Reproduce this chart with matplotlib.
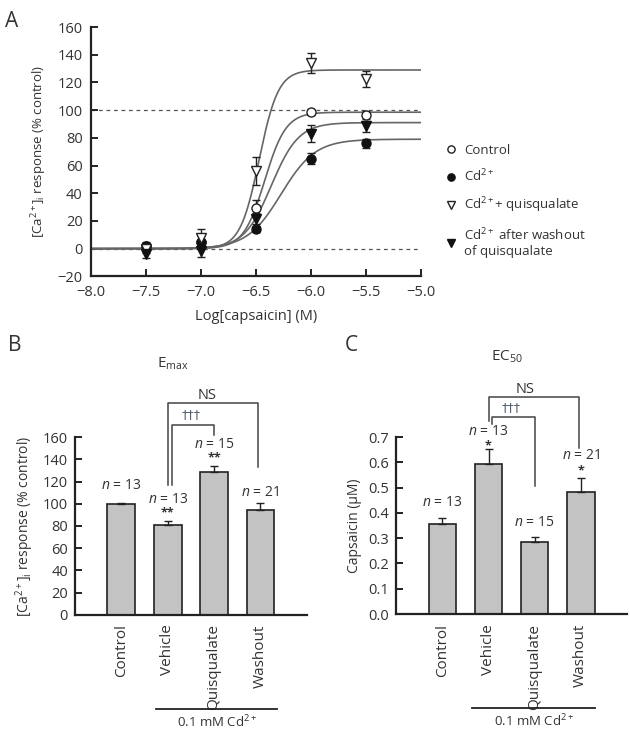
import numpy as np
import matplotlib
matplotlib.use('Agg')
import matplotlib.pyplot as plt
from matplotlib.lines import Line2D

plt.rcParams['font.family'] = ['Open Sans', 'DejaVu Sans']
plt.rcParams['mathtext.fontset'] = 'custom'
plt.rcParams['mathtext.rm'] = 'Open Sans'
plt.rcParams['mathtext.it'] = 'Open Sans:italic'
plt.rcParams['text.color'] = '#333333'
plt.rcParams['axes.labelcolor'] = '#333333'
plt.rcParams['xtick.color'] = '#222222'
plt.rcParams['ytick.color'] = '#222222'
plt.rcParams['xtick.labelcolor'] = '#333333'
plt.rcParams['ytick.labelcolor'] = '#333333'

# ---- Panel A: concentration-response data ----
series_names = ['Control', 'Cd$^{2+}$', 'Cd$^{2+}$+ quisqualate',
                'Cd$^{2+}$ after washout\nof quisqualate']
log_conc = [-7.5, -7.0, -6.5, -6.0, -5.5]
resp_control = [2, 5, 29, 98.5, 96.5]
err_control = [3, 5, 6, 2, 3]
resp_cd = [2, 5, 14, 65, 76]
err_cd = [2, 4, 2, 4, 3]
resp_quis = [0, 8, 56, 134, 122.5]
err_quis = [3, 6, 10, 7, 5.5]
resp_wash = [-4, -2, 21.5, 83, 88.5]
err_wash = [3, 4, 4, 6, 4]

# fitted Hill parameters: top, logEC50, hill slope
fit_top = [98.5, 79, 129, 91]
fit_logec50 = [-6.42, -6.27, -6.47, -6.36]
fit_hill = [4.5, 2.8, 5.0, 3.5]

# ---- Panel B / C: summary bars ----
groups = ['Control', 'Vehicle', 'Quisqualate', 'Washout']
n_labels = ['$n$ = 13', '$n$ = 13', '$n$ = 15', '$n$ = 21']
emax = [99.5, 81, 129, 94]
emax_err = [1.2, 3.8, 5, 7]
emax_stars = ['', '**', '**', '']
ec50 = [0.355, 0.595, 0.284, 0.484]
ec50_err = [0.027, 0.058, 0.021, 0.055]
ec50_stars = ['', '*', '', '*']

fig = plt.figure(figsize=(6.3, 7.31), dpi=100)

# ================= Panel A =================
axA = fig.add_axes([0.1444, 0.622, 0.5236, 0.341])
markers = [dict(marker='o', mfc='white', mec='#222222'),
           dict(marker='o', mfc='#111111', mec='#111111'),
           dict(marker='v', mfc='white', mec='#222222'),
           dict(marker='v', mfc='#111111', mec='#111111')]
resps = [resp_control, resp_cd, resp_quis, resp_wash]
errs = [err_control, err_cd, err_quis, err_wash]

xfit = np.linspace(-8.0, -5.0, 400)
axA.axhline(100, color='#555555', ls=(0, (3, 3)), lw=0.9, zorder=1)
axA.axhline(0, color='#555555', ls=(0, (3, 3)), lw=0.9, zorder=1)
for top, ec, h in zip(fit_top, fit_logec50, fit_hill):
    yfit = top / (1 + 10 ** (h * (ec - xfit)))
    axA.plot(xfit, yfit, color='#666666', lw=1.2, zorder=2)

for name, y, e, m in zip(series_names, resps, errs, markers):
    axA.errorbar(log_conc, y, yerr=e, fmt='none', ecolor='#222222',
                 elinewidth=1.0, capsize=3, capthick=1.0, zorder=3)
    axA.plot(log_conc, y, ls='none', ms=6.5, mew=1.0, label=name,
             zorder=4, **m)

axA.set_xlim(-8.0, -5.0)
axA.set_ylim(-20, 160)
axA.set_xticks(np.arange(-8.0, -4.99, 0.5))
axA.set_xticklabels(['\u2212%.1f' % abs(v) for v in np.arange(-8.0, -4.99, 0.5)])
axA.set_yticks(np.arange(-20, 161, 20))
axA.set_yticklabels([('\u2212%d' % abs(v)) if v < 0 else str(v)
                     for v in np.arange(-20, 161, 20)])
axA.spines[['top', 'right']].set_visible(False)
for s in ['left', 'bottom']:
    axA.spines[s].set_linewidth(1.6)
    axA.spines[s].set_color('#222222')
axA.tick_params(direction='in', length=5, width=1.4, labelsize=10.5, pad=6)
axA.set_xlabel('Log[capsaicin] (M)', fontsize=10.5, labelpad=7)
axA.set_ylabel('[Ca$^{2+}$]$_{\\mathrm{i}}$ response (% control)', fontsize=9.5,
               labelpad=6)
axA.legend(loc='upper left', bbox_to_anchor=(1.04, 0.58), frameon=False,
           fontsize=9.5, handlelength=0.8, handletextpad=0.6,
           labelspacing=0.85, markerscale=0.8)
fig.text(0.008, 0.985, 'A', fontsize=15, va='top')


# ================= Panels B and C =================
def bar_panel(ax, vals, errv, stars, ylim, yticks, fmt, ylabel, ann):
    x = np.arange(len(groups))
    ax.bar(x, vals, width=0.6, color='#c3c3c3', edgecolor='#222222',
           linewidth=1.2, zorder=2)
    ax.errorbar(x, vals, yerr=[np.zeros(len(vals)), errv], fmt='none',
                ecolor='#222222', elinewidth=1.0, capsize=3, capthick=1.0,
                zorder=3)
    ax.set_xlim(-1.0, 4.0)
    ax.set_ylim(*ylim)
    ax.set_yticks(yticks)
    ax.set_yticklabels([fmt % v for v in yticks])
    ax.set_xticks(x)
    ax.set_xticklabels(groups, rotation=90, fontsize=11)
    ax.tick_params(axis='x', length=0, pad=7)
    ax.tick_params(axis='y', direction='in', length=5, width=1.4,
                   labelsize=10.5, pad=5)
    ax.spines[['top', 'right']].set_visible(False)
    for s in ['left', 'bottom']:
        ax.spines[s].set_linewidth(1.6)
        ax.spines[s].set_color('#222222')
    ax.set_ylabel(ylabel, fontsize=10, labelpad=5)

    # n labels and stars
    for xi, lab, ny, st, sy in zip(x, n_labels, ann['n_y'], stars, ann['star_y']):
        ax.text(xi, ny, lab, ha='center', va='center', fontsize=10,
                clip_on=False)
        if st:
            ax.text(xi, sy, st, ha='center', va='center', fontsize=9,
                    fontweight='bold', clip_on=False)

    # brackets
    kw = dict(color='#444444', lw=1.1, clip_on=False)
    nl, nr, nt, nbl, nbr = ann['ns']
    ax.plot([nl, nl, nr, nr], [nbl, nt, nt, nbr], **kw)
    dl, dr, dt, dbl, dbr = ann['dag']
    ax.plot([dl, dl, dr, dr], [dbl, dt, dt, dbr], **kw)
    ax.text(ann['ns_lab'][0], ann['ns_lab'][1], 'NS', ha='center',
            va='center', fontsize=10.5, clip_on=False)
    ax.text(ann['dag_lab'][0], ann['dag_lab'][1], '\u2020\u2020\u2020',
            ha='center', va='center', fontsize=9, color='#556070',
            clip_on=False, family=['DejaVu Sans'])

    # Cd line under groups
    tr = ax.get_xaxis_transform()
    ax.add_line(Line2D([ann['line'][0], ann['line'][1]], [ann['line'][2]] * 2,
                       transform=tr, color='#222222', lw=1.3, clip_on=False))
    ax.text((ann['line'][0] + ann['line'][1]) / 2, ann['line'][2] - 0.075,
            '0.1 mM Cd$^{2+}$', transform=tr, ha='center', va='center',
            fontsize=9.5)


axB = fig.add_axes([0.119, 0.159, 0.368, 0.243])
bar_panel(axB, emax, emax_err, emax_stars, (0, 160), np.arange(0, 161, 20), '%d',
          '[Ca$^{2+}$]$_{\\mathrm{i}}$ response (% control)',
          dict(n_y=[116, 104, 153, 110.5], star_y=[0, 92, 141, 0],
               ns=(1.0, 2.95, 190.5, 117, 133),
               dag=(1.09, 2.0, 171, 117, 162),
               ns_lab=(1.84, 197.5), dag_lab=(1.5, 180.5),
               line=(0.75, 3.36, -0.528)))
fig.text(0.012, 0.528, 'B', fontsize=15, va='center')
fig.text(0.275, 0.503, 'E$_{\\mathrm{max}}$', fontsize=11, ha='center',
         va='center')

axC = fig.add_axes([0.629, 0.160, 0.366, 0.242])
bar_panel(axC, ec50, ec50_err, ec50_stars, (0, 0.7), np.arange(0, 0.71, 0.1),
          '%.1f', 'Capsaicin (\u03bcM)',
          dict(n_y=[0.443, 0.722, 0.364, 0.626], star_y=[0, 0.664, 0, 0.566],
               ns=(1.0, 2.97, 0.858, 0.764, 0.656),
               dag=(1.08, 2.0, 0.779, 0.752, 0.506),
               ns_lab=(1.8, 0.89), dag_lab=(1.5, 0.818),
               line=(0.65, 3.31, -0.531)))
fig.text(0.548, 0.528, 'C', fontsize=15, va='center')
fig.text(0.805, 0.512, 'EC$_{\\mathrm{50}}$', fontsize=11, ha='center',
         va='center')

fig.savefig('out.png', dpi=100)
